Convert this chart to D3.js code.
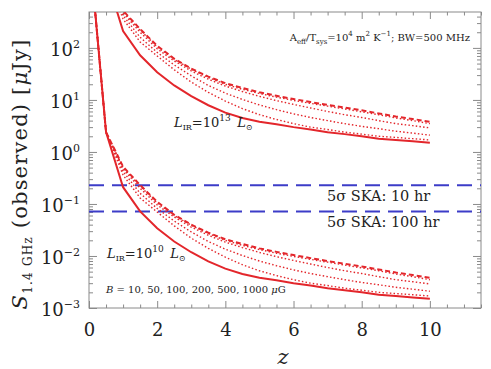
<!DOCTYPE html>
<html>
<head>
<meta charset="utf-8">
<script src="https://cdn.jsdelivr.net/npm/d3@7"></script>
<style>
body { margin: 0; background: #fff; }
svg { display: block; }
</style>
</head>
<body>
<div id="chart"></div>
<script>

// redshift grid of the model curves
var zgrid = [0.1, 0.5, 1.0, 1.5, 2.0, 2.5, 3.0, 3.5, 4.0, 4.5, 5.0, 5.5, 6.0, 6.5, 7.0, 7.5, 8.0, 8.5, 9.0, 9.5, 10.0];

// L_IR = 1e10 Lsun, flux in uJy for B = 10, 50, 100, 200, 500, 1000 uG
var lo_b10   = [1900, 2.4, 0.21, 0.072, 0.034, 0.019, 0.0118, 0.0079, 0.0057, 0.0045, 0.0038, 0.0034, 0.0030, 0.0027, 0.0024, 0.0022, 0.0020, 0.0018, 0.0017, 0.0016, 0.0015];
var lo_b50   = [1900, 2.4, 0.36, 0.13, 0.070, 0.038, 0.022, 0.014, 0.0095, 0.0068, 0.0052, 0.0042, 0.0035, 0.0030, 0.0027, 0.0024, 0.0022, 0.0020, 0.0019, 0.0018, 0.0017];
var lo_b100  = [1900, 2.4, 0.42, 0.16, 0.082, 0.047, 0.029, 0.019, 0.0135, 0.0102, 0.0080, 0.0065, 0.0054, 0.0046, 0.0040, 0.0035, 0.0031, 0.0028, 0.0025, 0.0023, 0.0021];
var lo_b200  = [1900, 2.4, 0.47, 0.20, 0.096, 0.056, 0.036, 0.025, 0.0185, 0.0145, 0.0117, 0.0097, 0.0082, 0.0070, 0.0060, 0.0052, 0.0046, 0.0040, 0.0035, 0.0032, 0.0029];
var lo_b500  = [1900, 2.4, 0.50, 0.22, 0.105, 0.060, 0.039, 0.027, 0.020, 0.016, 0.0133, 0.0113, 0.0098, 0.0086, 0.0076, 0.0067, 0.0059, 0.0052, 0.0045, 0.0040, 0.0035];
var lo_b1000 = [1900, 2.4, 0.52, 0.23, 0.110, 0.062, 0.040, 0.028, 0.021, 0.017, 0.0140, 0.0120, 0.0104, 0.0091, 0.0080, 0.0071, 0.0063, 0.0055, 0.0048, 0.0043, 0.0038];

// L_IR = 1e13 Lsun
var hi_b10   = [1900000, 2400, 210, 72, 34, 19, 11.8, 7.9, 5.7, 4.5, 3.8, 3.4, 3.0, 2.7, 2.4, 2.2, 2.0, 1.8, 1.7, 1.6, 1.5];
var hi_b50   = [1900000, 2400, 360, 130, 70, 38, 22, 14, 9.5, 6.8, 5.2, 4.2, 3.5, 3.0, 2.7, 2.4, 2.2, 2.0, 1.9, 1.8, 1.7];
var hi_b100  = [1900000, 2400, 420, 160, 82, 47, 29, 19, 13.5, 10.2, 8.0, 6.5, 5.4, 4.6, 4.0, 3.5, 3.1, 2.8, 2.5, 2.3, 2.1];
var hi_b200  = [1900000, 2400, 470, 200, 96, 56, 36, 25, 18.5, 14.5, 11.7, 9.7, 8.2, 7.0, 6.0, 5.2, 4.6, 4.0, 3.5, 3.2, 2.9];
var hi_b500  = [1900000, 2400, 500, 220, 105, 60, 39, 27, 20, 16, 13.3, 11.3, 9.8, 8.6, 7.6, 6.7, 5.9, 5.2, 4.5, 4.0, 3.5];
var hi_b1000 = [1900000, 2400, 520, 230, 110, 62, 40, 28, 21, 17, 14.0, 12.0, 10.4, 9.1, 8.0, 7.1, 6.3, 5.5, 4.8, 4.3, 3.8];

// 5 sigma SKA limits
var skaLabels = ["10 hr", "100 hr"];
var skaLimits = [0.23, 0.072];

var xticks = [0, 2, 4, 6, 8, 10];
var yticks = [1e-3, 1e-2, 1e-1, 1, 10, 100];

var W = 491, H = 369;
var margin = { top: 12, right: 10, bottom: 61, left: 89 };
var width = W - margin.left - margin.right,
	height = H - margin.top - margin.bottom;

var red = "#e3262b", blue = "#3c3cc8", axcol = "#8a8a8a";
var serif = "'DejaVu Serif', 'Liberation Serif', serif";

var svg = d3.select("#chart").append("svg")
	.attr("width", W)
	.attr("height", H)
	.attr("font-family", serif);

var g = svg.append("g")
	.attr("transform", `translate(${margin.left},${margin.top})`);

var x = d3.scaleLinear().domain([0, 11.5]).range([0, width]);
var y = d3.scaleLog().domain([1e-3, 490]).range([height, 0]);

g.append("clipPath").attr("id", "clip")
	.append("rect").attr("width", width).attr("height", height);

// minor ticks
var xminor = d3.range(0, 11.6, 0.5).filter(v => v % 2 !== 0);
var yminor = [];
[-3, -2, -1, 0, 1, 2].forEach(e => d3.range(2, 10).forEach(m => {
	var v = m * Math.pow(10, e);
	if (v < 490) yminor.push(v);
}));

function axes(sel, maker, scale, major, minor, len, lab) {
	var a = sel.append("g").call(maker(scale).tickValues(major).tickSize(-len).tickPadding(9)
		.tickFormat(lab ? null : ""));
	a.select(".domain").remove();
	sel.append("g").call(maker(scale).tickValues(minor).tickSize(-len / 2).tickFormat(""))
		.select(".domain").remove();
	return a;
}

var xb = g.append("g").attr("transform", `translate(0,${height})`);
var xa = axes(xb, d3.axisBottom, x, xticks, xminor, 7, true);
var xt = g.append("g");
axes(xt, d3.axisTop, x, xticks, xminor, 7, false);
var yl = g.append("g");
var ya = axes(yl, d3.axisLeft, y, yticks, yminor, 8, true);
var yr = g.append("g").attr("transform", `translate(${width},0)`);
axes(yr, d3.axisRight, y, yticks, yminor, 8, false);

g.selectAll(".tick line").attr("stroke", axcol);

xa.selectAll(".tick text")
	.attr("font-size", 18)
	.attr("fill", "#222")
	.attr("font-family", serif)
	.attr("dy", "1.05em")
	.text(d => d);

// y labels as 10^n
ya.selectAll(".tick text").each(function(d) {
	var t = d3.select(this).text(null)
		.attr("font-size", 18)
		.attr("fill", "#222")
		.attr("font-family", serif)
		.attr("dy", "0.4em");
	t.append("tspan").text("10");
	var e = Math.round(Math.log10(d));
	t.append("tspan").attr("dy", -8).attr("font-size", 11)
		.text(e < 0 ? "\u2212" + (-e) : e);
});

g.append("rect")
	.attr("width", width).attr("height", height)
	.attr("fill", "none").attr("stroke", axcol).attr("stroke-width", 1);

// SKA lines
var plot = g.append("g").attr("clip-path", "url(#clip)");

skaLimits.forEach(v => {
	plot.append("line")
		.attr("x1", 0).attr("x2", width)
		.attr("y1", y(v)).attr("y2", y(v))
		.attr("stroke", blue).attr("stroke-width", 2)
		.attr("stroke-dasharray", "15,8");
});

skaLabels.forEach((s, i) => {
	g.append("text")
		.attr("x", 238).attr("y", y(skaLimits[i]) + 16)
		.attr("font-size", 14.5).attr("fill", "#222")
		.text("5\u03c3 SKA: " + s);
});

// model curves
var styles = [
	{ dash: null, w: 2 },
	{ dash: "1.5,2.2", w: 1.4 },
	{ dash: "1.5,2.2", w: 1.4 },
	{ dash: "1.5,2.2", w: 1.4 },
	{ dash: "1.5,2.2", w: 1.4 },
	{ dash: "5,3", w: 2 }
];
var groups = [
	[lo_b10, lo_b50, lo_b100, lo_b200, lo_b500, lo_b1000],
	[hi_b10, hi_b50, hi_b100, hi_b200, hi_b500, hi_b1000]
];

var line = d3.line()
	.x(d => x(d[0]))
	.y(d => y(d[1]));

groups.forEach(grp => grp.forEach((vals, i) => {
	plot.append("path")
		.datum(zgrid.map((z, k) => [z, vals[k]]))
		.attr("d", line)
		.attr("fill", "none")
		.attr("stroke", red)
		.attr("stroke-width", styles[i].w)
		.attr("stroke-dasharray", styles[i].dash);
}));

// annotations
var ann = g.append("text")
	.attr("x", 381).attr("y", 29)
	.attr("text-anchor", "end")
	.attr("font-size", 10).attr("fill", "#222");
ann.append("tspan").text("A");
ann.append("tspan").attr("font-size", 7).attr("dy", 3).text("eff");
ann.append("tspan").attr("dy", -3).text("/T");
ann.append("tspan").attr("font-size", 7).attr("dy", 3).text("sys");
ann.append("tspan").attr("dy", -3).text("=10");
ann.append("tspan").attr("font-size", 7).attr("dy", -5).text("4");
ann.append("tspan").attr("dy", 5).text(" m");
ann.append("tspan").attr("font-size", 7).attr("dy", -5).text("2");
ann.append("tspan").attr("dy", 5).text(" K");
ann.append("tspan").attr("font-size", 7).attr("dy", -5).text("\u22121");
ann.append("tspan").attr("dy", 5).text("; BW=500 MHz");

function lirLabel(px, py, exp) {
	var t = g.append("text").attr("x", px).attr("y", py)
		.attr("font-size", 13).attr("fill", "#222");
	t.append("tspan").attr("font-style", "italic").text("L");
	t.append("tspan").attr("font-size", 8).attr("dy", 3).text("IR");
	t.append("tspan").attr("dy", -3).text("=10");
	t.append("tspan").attr("font-size", 9).attr("dy", -6).text(exp);
	t.append("tspan").attr("dy", 6).text("\u2002");
	t.append("tspan").attr("font-style", "italic").text("L");
	t.append("tspan").attr("font-size", 8).attr("dy", 3).text("\u2299");
}
lirLabel(85, 115, "13");
lirLabel(18, 246, "10");

g.append("text")
	.attr("x", 17).attr("y", 281)
	.attr("font-size", 10).attr("fill", "#222")
	.html("<tspan font-style='italic'>B</tspan> = 10, 50, 100, 200, 500, 1000 <tspan font-style='italic'>\u03bc</tspan>G");

// axis titles
g.append("text")
	.attr("x", width / 2 - 2).attr("y", height + 56)
	.attr("text-anchor", "middle")
	.attr("font-size", 21).attr("font-style", "italic").attr("fill", "#222")
	.text("z");

var yt = svg.append("text")
	.attr("transform", "translate(27,174) rotate(-90)")
	.attr("text-anchor", "middle")
	.attr("font-size", 21)
	.attr("letter-spacing", 1.2)
	.attr("fill", "#222");
yt.append("tspan").attr("font-style", "italic").text("S");
yt.append("tspan").attr("font-size", 12).attr("dy", 5).text("1.4 GHz");
yt.append("tspan").attr("dy", -5).text(" (observed) [");
yt.append("tspan").attr("font-style", "italic").text("\u03bc");
yt.append("tspan").text("Jy]");

</script>
</body>
</html>
